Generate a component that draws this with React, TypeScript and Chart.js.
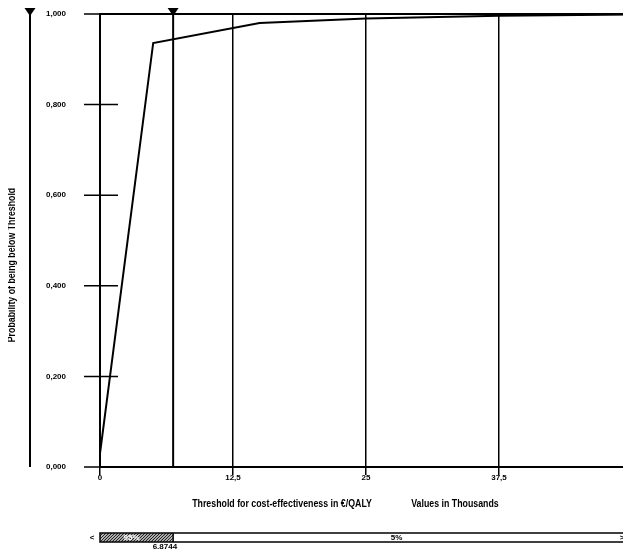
import React, { useEffect, useRef } from "react";
import { Chart, registerables } from "chart.js";

Chart.register(...registerables);

// Data (values in thousands of €/QALY)
const thresholdsK: number[] = [0, 5, 15, 25, 37.5, 50];
const probBelow: number[] = [0.03, 0.936, 0.98, 0.99, 0.996, 0.999];
const xTickValues: number[] = [0, 12.5, 25, 37.5, 50];
const yTickValues: number[] = [0, 0.2, 0.4, 0.6, 0.8, 1.0];
const markerThreshold = 6.8744;
const markerLabel = "6,8744";
const leftPct = "95%";
const rightPct = "5%";
const xTitle = "Threshold for cost-effectiveness in €/QALY";
const xUnitTitle = "Values in Thousands";
const yTitle = "Probability of being below Threshold";

const FONT = "'Liberation Sans', Arial, sans-serif";

const fmtComma = (v: number, digits: number) =>
  digits >= 0 ? v.toFixed(digits).replace(".", ",") : String(v).replace(".", ",");

function triangle(ctx: CanvasRenderingContext2D, cx: number, top: number) {
  ctx.beginPath();
  ctx.moveTo(cx - 5.5, top);
  ctx.lineTo(cx + 5.5, top);
  ctx.lineTo(cx, top + 8);
  ctx.closePath();
  ctx.fill();
}

function narrowText(ctx: CanvasRenderingContext2D, text: string, cx: number, cy: number, sx: number) {
  ctx.save();
  ctx.translate(cx, cy);
  ctx.scale(sx, 1);
  ctx.fillText(text, 0, 0);
  ctx.restore();
}

const decorPlugin = {
  id: "decor",
  afterDraw(chart: any) {
    const { ctx, chartArea } = chart;
    const x = chart.scales.x;
    const y = chart.scales.y;
    ctx.save();
    ctx.strokeStyle = "#000";
    ctx.fillStyle = "#000";

    // top border
    ctx.lineWidth = 2;
    ctx.beginPath();
    ctx.moveTo(chartArea.left, chartArea.top);
    ctx.lineTo(chartArea.right, chartArea.top);
    ctx.stroke();

    // y tick marks crossing the axis
    ctx.lineWidth = 1.5;
    y.ticks.forEach((t: any) => {
      const py = y.getPixelForValue(t.value);
      ctx.beginPath();
      ctx.moveTo(chartArea.left - 16, py);
      ctx.lineTo(chartArea.left + 18, py);
      ctx.stroke();
    });

    // threshold marker line
    const px = x.getPixelForValue(markerThreshold);
    ctx.lineWidth = 2;
    ctx.beginPath();
    ctx.moveTo(px, chartArea.top - 4);
    ctx.lineTo(px, chartArea.bottom);
    ctx.stroke();
    triangle(ctx, px, chartArea.top - 6);

    // left slider line for y axis
    const sx = 22;
    ctx.beginPath();
    ctx.moveTo(sx, chartArea.top - 4);
    ctx.lineTo(sx, chartArea.bottom);
    ctx.stroke();
    triangle(ctx, sx, chartArea.top - 6);

    // titles
    ctx.font = `bold 10px ${FONT}`;
    ctx.textBaseline = "middle";
    ctx.textAlign = "center";
    narrowText(ctx, xTitle, 274, chartArea.bottom + 37, 0.88);
    narrowText(ctx, xUnitTitle, 447, chartArea.bottom + 37, 0.88);
    ctx.save();
    ctx.translate(4, 257);
    ctx.rotate(-Math.PI / 2);
    ctx.scale(0.88, 1);
    ctx.fillText(yTitle, 0, 0);
    ctx.restore();

    // bottom bar
    const barTop = chartArea.bottom + 66;
    const barH = 9;
    const barLeft = chartArea.left;
    const barRight = 621;
    ctx.save();
    ctx.beginPath();
    ctx.rect(barLeft, barTop, px - barLeft, barH);
    ctx.clip();
    ctx.fillStyle = "#fff";
    ctx.fillRect(barLeft, barTop, px - barLeft, barH);
    ctx.strokeStyle = "#222";
    ctx.lineWidth = 1.2;
    for (let hx = barLeft - barH; hx < px + barH; hx += 3) {
      ctx.beginPath();
      ctx.moveTo(hx, barTop + barH);
      ctx.lineTo(hx + barH, barTop);
      ctx.stroke();
    }
    ctx.restore();
    ctx.lineWidth = 1.5;
    ctx.strokeRect(barLeft, barTop, barRight - barLeft, barH);
    ctx.beginPath();
    ctx.moveTo(px, barTop);
    ctx.lineTo(px, barTop + barH);
    ctx.stroke();

    ctx.font = `bold 8px ${FONT}`;
    ctx.fillStyle = "#fff";
    ctx.fillText(leftPct, (barLeft + px) / 2 - 5, barTop + barH / 2);
    ctx.fillStyle = "#000";
    ctx.fillText(rightPct, (px + chartArea.right) / 2 - 6, barTop + barH / 2);
    ctx.fillText("<", barLeft - 8, barTop + barH / 2);
    ctx.fillText(">", barRight - 7, barTop + barH / 2);
    ctx.textAlign = "right";
    ctx.fillText(markerLabel, px + 4, barTop + barH + 5);

    ctx.restore();
  },
};

export default function App() {
  const ref = useRef<HTMLCanvasElement | null>(null);

  useEffect(() => {
    if (!ref.current) return;
    const chart = new Chart(ref.current, {
      type: "line",
      data: {
        datasets: [
          {
            data: thresholdsK.map((v, i) => ({ x: v, y: probBelow[i] })),
            borderColor: "#000",
            borderWidth: 2,
            pointRadius: 0,
            tension: 0,
            fill: false,
          },
        ],
      },
      options: {
        animation: false,
        responsive: false,
        devicePixelRatio: 1,
        layout: { padding: { left: 0, top: 6, right: 16, bottom: 0 } },
        plugins: {
          legend: { display: false },
          tooltip: { enabled: false },
          title: { display: false },
        },
        scales: {
          x: {
            type: "linear",
            min: 0,
            max: 50,
            afterBuildTicks: (s: any) => {
              s.ticks = xTickValues.map((v) => ({ value: v }));
            },
            afterFit: (s: any) => {
              s.height = 82;
            },
            ticks: {
              color: "#000",
              padding: -2,
              maxRotation: 0,
              autoSkip: false,
              font: { family: FONT, size: 8, weight: "bold" },
              callback: (v: any) => fmtComma(Number(v), -1),
            },
            grid: {
              color: "#000",
              lineWidth: 1.5,
              drawOnChartArea: true,
              drawTicks: true,
              tickLength: 8,
            },
            border: { display: true, color: "#000", width: 2 },
          },
          y: {
            type: "linear",
            min: 0,
            max: 1,
            afterBuildTicks: (s: any) => {
              s.ticks = yTickValues.map((v) => ({ value: v }));
            },
            afterFit: (s: any) => {
              s.width = 92;
            },
            ticks: {
              color: "#000",
              padding: 0,
              font: { family: FONT, size: 8, weight: "bold" },
              callback: (v: any) => fmtComma(Number(v), 3),
            },
            grid: {
              color: "rgba(0,0,0,0)",
              tickColor: "rgba(0,0,0,0)",
              drawOnChartArea: false,
              drawTicks: true,
              tickLength: 34,
            },
            border: { display: true, color: "#000", width: 2 },
          },
        },
      },
      plugins: [decorPlugin],
    } as any);
    return () => chart.destroy();
  }, []);

  return (
    <div style={{ width: 623, height: 541, overflow: "hidden", position: "relative" }}>
      <canvas ref={ref} width={640} height={541} style={{ display: "block" }} />
    </div>
  );
}
